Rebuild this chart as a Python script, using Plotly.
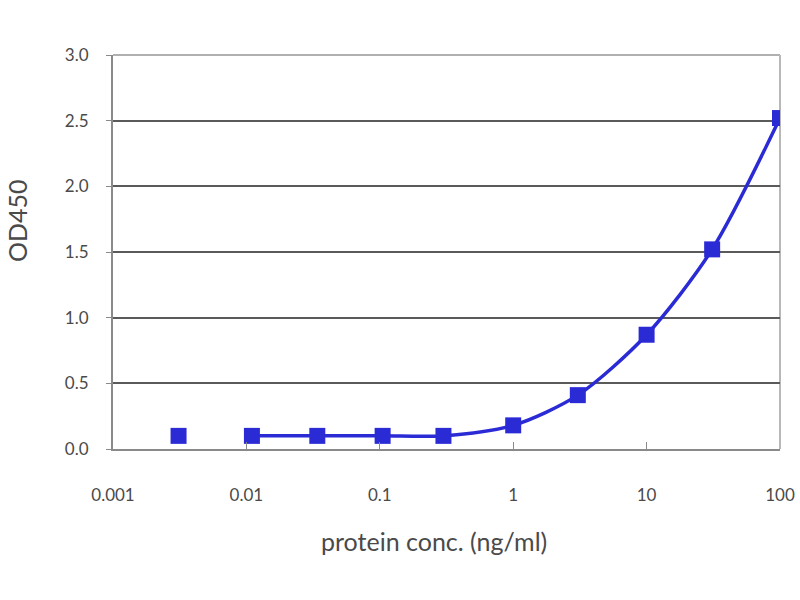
import plotly.graph_objects as go

conc = [0.0031, 0.011, 0.034, 0.105, 0.3, 1.0, 3.05, 10.0, 31.0, 100.0]
od450 = [0.10, 0.10, 0.10, 0.10, 0.10, 0.18, 0.41, 0.87, 1.52, 2.52]
x_ticks = [0.001, 0.01, 0.1, 1, 10, 100]
x_tick_labels = ["0.001", "0.01", "0.1", "1", "10", "100"]
y_ticks = [0.0, 0.5, 1.0, 1.5, 2.0, 2.5, 3.0]
y_tick_labels = ["0.0", "0.5", "1.0", "1.5", "2.0", "2.5", "3.0"]
x_title = "protein conc. (ng/ml)"
y_title = "OD450"

blue = "#2b2bd6"
fig = go.Figure()
fig.add_trace(go.Scatter(
    x=conc[:1], y=od450[:1], mode="markers",
    marker=dict(symbol="square", size=16, color=blue),
    showlegend=False))
fig.add_trace(go.Scatter(
    x=conc[1:], y=od450[1:], mode="lines+markers",
    line=dict(color=blue, width=3.5, shape="spline", smoothing=0.8),
    marker=dict(symbol="square", size=16, color=blue),
    showlegend=False))

txt = "#4a4a4a"
font = dict(family="Lato, Open Sans, sans-serif", size=17, color=txt)
fig.update_layout(
    width=800, height=600,
    margin=dict(l=113, r=20, t=55, b=151),
    paper_bgcolor="white", plot_bgcolor="white",
    font=font,
    xaxis=dict(
        type="log", range=[-3, 2],
        tickvals=x_ticks, ticktext=x_tick_labels,
        showgrid=False, zeroline=False, automargin=False,
        showline=True, linecolor="#8a8a8a", linewidth=2,
        ticks="inside", ticklen=7, tickcolor="#8a8a8a", tickwidth=1,
        ticklabelstandoff=30,
    ),
    yaxis=dict(
        range=[0, 3], tickvals=y_ticks, ticktext=y_tick_labels,
        showgrid=True, gridcolor="#5a5a5a", gridwidth=2,
        zeroline=False, automargin=False,
        showline=True, linecolor="#8a8a8a", linewidth=2,
        ticks="outside", ticklen=5, tickcolor="#8a8a8a",
        ticklabelstandoff=14,
    ),
)
fig.add_annotation(text=x_title, xref="paper", yref="paper", x=0.481, y=-0.2335,
                   xanchor="center", yanchor="middle", showarrow=False,
                   font=dict(size=25, color=txt))
fig.add_annotation(text=y_title, xref="paper", yref="paper", x=-0.143, y=0.58,
                   xanchor="center", yanchor="middle", showarrow=False, textangle=-90,
                   font=dict(size=25, color=txt))
fig.add_shape(type="line", xref="paper", yref="paper", x0=0, x1=1, y0=1, y1=1,
              line=dict(color="#b0b0b0", width=2), layer="below")
fig.add_shape(type="line", xref="paper", yref="paper", x0=1, x1=1, y0=0, y1=1,
              line=dict(color="#b8b8b8", width=2), layer="below")
fig.write_html("out.html", config={"displayModeBar": False},
               post_script="document.body.style.margin='0';document.body.style.overflow='hidden';")
